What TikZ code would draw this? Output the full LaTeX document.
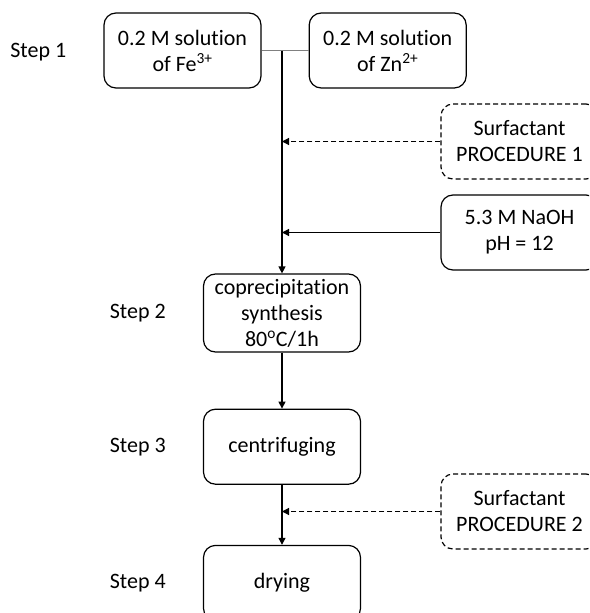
\documentclass[tikz,border=0pt]{standalone}
\usepackage{fontspec}
\setmainfont[Ligatures=NoCommon]{Carlito}
\usepackage{tikz}
\usetikzlibrary{arrows.meta, positioning}
\tikzstyle{arrow}=[-{Triangle[length=7pt,width=7pt]}, line width=1.2pt, color=black]

\begin{document}
\begin{tikzpicture}[x=1pt, y=-1pt,
  mbox/.style={rectangle, rounded corners=12pt, draw=black, line width=1.2pt,
               minimum width=157pt, minimum height=75pt, inner sep=0pt,
               align=center, font=\fontsize{22}{26}\selectfont},
  dbox/.style={mbox, dash pattern=on 5pt off 3pt},
  steplabel/.style={inner sep=0pt, font=\fontsize{22}{26}\selectfont}
]
\useasboundingbox (0,0) rectangle (589,613);
\clip (0,0) rectangle (589,613);

\node[mbox] (fe_n) at (182.5,50.5) {0.2 M solution\\of Fe\textsuperscript{3+}};
\node[mbox, right=47pt of fe_n] (zn_n) {0.2 M solution\\of Zn\textsuperscript{2+}};

\node[mbox, minimum height=78pt] (copr_n) at (282,313) {coprecipitation\\synthesis\\80\textsuperscript{o}C/1h};
\node[mbox, below=56pt of copr_n] (cent_n) {centrifuging};
\node[mbox, below=60pt of cent_n] (dry_n) {drying};

\node[dbox] (surf1_n) at (519.5,141.5) {Surfactant\\PROCEDURE 1};
\node[mbox] (naoh_n) at (519.5,232.5) {5.3 M NaOH\\pH = 12};
\node[dbox] (surf2_n) at (519.5,511.5) {Surfactant\\PROCEDURE 2};

\node[steplabel, left=37pt of fe_n, yshift=-2pt] (s1) {Step 1};
\node[steplabel, left=37pt of copr_n] (s2) {Step 2};
\node[steplabel, left=37pt of cent_n] (s3) {Step 3};
\node[steplabel, left=37pt of dry_n]  (s4) {Step 4};

\coordinate (join) at (copr_n.north |- fe_n.east);
\draw[gray, line width=1pt] (fe_n.east) -- (zn_n.west);
\draw[arrow] (join) -- (copr_n.north);
\draw[arrow, dash pattern=on 5pt off 3pt] (surf1_n.west) -- (copr_n.north |- surf1_n.west);
\draw[arrow] (naoh_n.west) -- (copr_n.north |- naoh_n.west);
\draw[arrow] (copr_n) -- (cent_n);
\draw[arrow] (cent_n) -- (dry_n);
\draw[arrow, dash pattern=on 5pt off 3pt] (surf2_n.west) -- (cent_n.south |- surf2_n.west);
\end{tikzpicture}
\end{document}
